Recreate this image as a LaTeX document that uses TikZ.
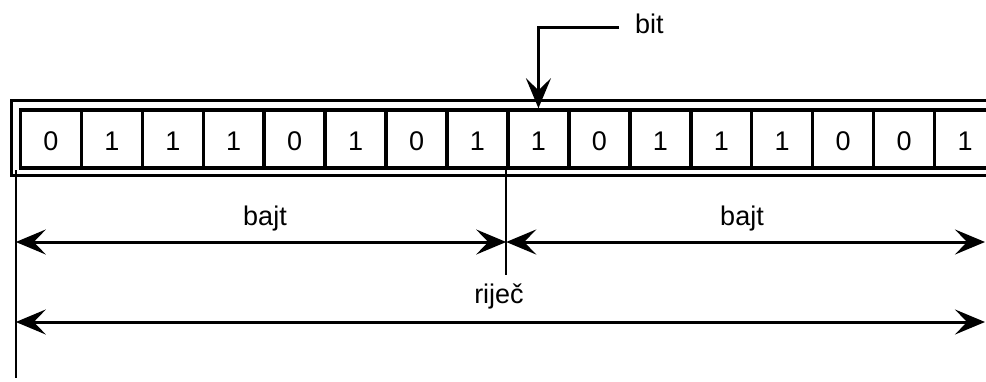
\documentclass[tikz,border=0pt]{standalone}
\usepackage{fontspec}
\setmainfont{Liberation Sans}
\usetikzlibrary{arrows.meta}
\begin{document}
\begin{tikzpicture}[x=1pt,y=-1pt,
  >={Stealth[length=30pt,width=25pt,inset=12pt]},
  txt/.style={font=\fontsize{27}{31}\selectfont, inner sep=0pt},
  cell/.style={txt, draw, line width=3.5pt, minimum width=60.94pt,
    minimum height=58pt, text height=23pt, text depth=0pt, anchor=west},
  frame/.style={line width=3pt},
  tick/.style={line width=1.6pt},
  span/.style={line width=3pt, <->},
  pointer/.style={line width=3pt, ->},
]
\path[use as bounding box] (0,0) rectangle (986,381);
\clip (0,0) rectangle (986,381);

% outer frame of the register
\draw[frame] (1000,100.5) -- (11,100.5) -- (11,175.5) -- (1000,175.5);

% the bit cells
\foreach \i/\b in {1/0,2/1,3/1,4/1,5/0,6/1,7/0,8/1,9/1,10/0,11/1,12/1,13/1,14/0,15/0,16/1}
  \node[cell] (c\i) at ({18.7+(\i-1)*60.94},139) {\b};

% extension lines
\coordinate (tickL) at (15.8,170);
\coordinate (tickLend) at (15.8,378);
\coordinate (tickM) at (506.2,170);
\coordinate (tickMend) at (506.2,275);
\draw[tick] (tickL) -- (tickLend);
\draw[tick] (tickM) -- (tickMend);

% byte spans
\coordinate (b1L) at (15.8,242);
\coordinate (b1R) at (506.2,242);
\coordinate (b2R) at (985,242);
\draw[span] (b1L) -- (b1R);
\draw[span] (b1R) -- (b2R);
\node[txt, anchor=base] (bajt1) at (265,225) {bajt};
\node[txt, anchor=base] (bajt2) at (742,225) {bajt};

% word span
\coordinate (wL) at (15.8,322);
\coordinate (wR) at (985,322);
\draw[span] (wL) -- (wR);
\node[txt, anchor=base] (rijec) at (499,303) {riječ};

% bit pointer
\node[txt, anchor=base west] (bit) at (635,33) {bit};
\coordinate (bitfoot) at (619,27);
\draw[pointer] (bitfoot) -| (c9.north);
\end{tikzpicture}
\end{document}
